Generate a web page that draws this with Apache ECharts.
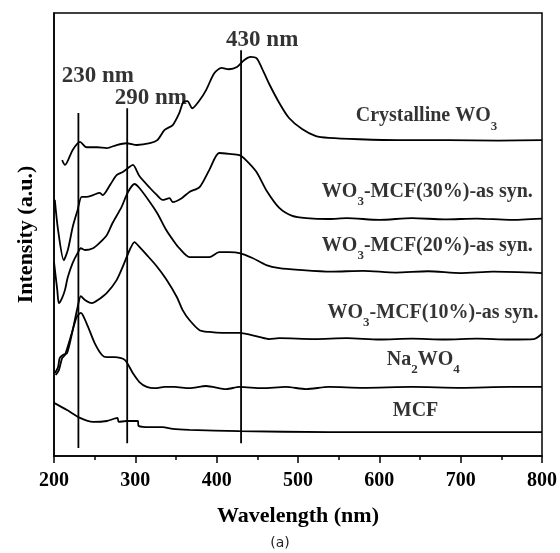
<!DOCTYPE html>
<html>
<head>
<meta charset="utf-8">
<script src="https://cdn.jsdelivr.net/npm/echarts@6/dist/echarts.min.js"></script>
<style>
  html, body { margin: 0; padding: 0; background: #fff; }
  #chart { width: 560px; height: 553px; }
</style>
</head>
<body>
<div id="chart"></div>
<script>
// UV-Vis spectra, wavelength (nm) vs. intensity (a.u.), curves stacked with offsets
const crystallineWO3 = [
  [210, 66.8], [213.5, 65.7], [223, 69.1], [232, 70.9], [240, 69.7], [253, 69.7], [265, 69.5],
  [277, 70.2], [289, 70.6], [302, 70.2], [318, 70.6], [327, 71.3], [336, 73.6], [346, 74.7],
  [354, 77.4], [359, 79.9], [364, 80.1], [370, 78.5], [379, 80.3], [387, 82.6], [397, 86.4],
  [406, 87.6], [415, 87.3], [425, 87.8], [434, 89.4], [442, 90.1], [449, 89.8], [455, 87.8],
  [464, 84.2], [477, 79.7], [489, 76.3], [505, 73.8], [522, 72.2], [538, 71.8], [575, 71.5],
  [624, 71.3], [685, 71.3], [746, 71.2], [800, 71.3]
];
const wo3Mcf30 = [
  [201, 57.8], [205, 51.0], [212, 44.2], [217, 46.5], [223, 51.7], [229, 55.5], [234, 58.5],
  [240, 58.5], [248, 58.9], [256, 59.4], [260, 58.9], [269, 61.2], [277, 63.4], [284.5, 64.1],
  [291, 65.0], [297, 65.7], [305, 63.2], [318, 60.5], [326, 59.0], [333.5, 57.8], [342, 58.2],
  [346, 57.3], [357, 58.2], [366.5, 59.6], [379, 60.7], [391, 64.6], [403, 68.4], [415.5, 68.2],
  [428, 67.9], [436, 66.8], [449, 64.1], [461, 60.0], [477, 56.0], [493, 54.2], [510, 53.7],
  [538, 53.5], [560, 53.7], [600, 53.3], [640, 53.7], [680, 53.4], [720, 53.6], [760, 53.3],
  [800, 53.6]
];
const wo3Mcf20 = [
  [200, 43.8], [204, 37.5], [206, 34.5], [210, 35.7], [213.5, 37.5], [217, 40.4], [223, 43.6],
  [229, 45.8], [233, 46.9], [238, 46.5], [248, 46.9], [256, 48.1], [265, 49.9], [272, 52.6],
  [283, 56.2], [291, 59.6], [299, 61.4], [305, 60.5], [318, 57.3], [327, 54.8], [338, 51.0],
  [348, 48.3], [354, 46.9], [366.5, 44.9], [379, 44.9], [391, 44.9], [403, 46.0], [415.5, 46.0],
  [428, 45.8], [444, 44.7], [461, 43.1], [477, 42.4], [501, 42.0], [540, 41.6], [580, 41.8],
  [620, 41.4], [660, 41.7], [700, 41.3], [740, 41.6], [800, 41.3]
];
const wo3Mcf10 = [
  [201, 18.7], [205, 20.1], [207, 22.1], [211, 22.8], [216, 23.2], [223, 28.4], [229, 33.6],
  [233, 36.1], [238, 35.2], [246.5, 34.5], [254, 35.2], [265, 36.8], [277, 39.7], [284.5, 42.7],
  [293, 46.5], [299, 48.3], [305, 47.2], [314, 45.4], [326, 42.9], [338, 39.9], [351, 35.9],
  [358, 33.0], [366.5, 30.7], [379, 28.4], [391, 28.0], [407, 27.8], [428, 27.8], [452, 26.9],
  [464.5, 26.4], [477, 26.6], [520, 26.4], [560, 26.6], [600, 26.3], [640, 26.5], [680, 26.3],
  [720, 26.5], [760, 26.3], [790, 26.4], [800, 27.6]
];
const na2wo4 = [
  [202, 18.3], [206, 19.4], [210, 22.1], [213.5, 22.8], [222, 27.8], [228, 31.4], [233, 32.3],
  [235.5, 31.8], [242, 29.1], [250, 25.5], [259, 22.8], [265, 22.3], [275, 22.3], [287, 21.7],
  [297, 18.7], [305, 16.7], [314, 15.6], [324, 15.3], [336, 15.6], [348, 15.6], [366.5, 15.3],
  [387, 15.8], [412, 15.1], [428, 15.6], [456, 15.3], [485, 15.6], [510, 15.1], [538, 15.6],
  [580, 15.4], [640, 15.6], [700, 15.4], [760, 15.6], [800, 15.6]
];
const mcf = [
  [200, 12.0], [216, 10.4], [232, 8.6], [248, 7.7], [265, 7.9], [278, 8.6], [279.5, 7.7],
  [289, 7.9], [303, 7.9], [304, 6.8], [318, 6.5], [333.5, 6.5], [346, 6.1], [366.5, 5.9],
  [428, 5.6], [538, 5.4], [800, 5.4]
];

// Marked band positions (nm) and the intensity span of each marker line
const peakWavelengths = [230, 290, 430];
const peakLineSpans = [[1.8, 77.4], [2.9, 78.5], [2.9, 91.6]];

// Axis ticks
const xTicks = [200, 300, 400, 500, 600, 700, 800];

const curves = [crystallineWO3, wo3Mcf30, wo3Mcf20, wo3Mcf10, na2wo4, mcf];
const curveLabels = [
  '{b|Crystalline WO}{s|3}',
  '{b|WO}{s|3}{b|-MCF(30%)-as syn.}',
  '{b|WO}{s|3}{b|-MCF(20%)-as syn.}',
  '{b|WO}{s|3}{b|-MCF(10%)-as syn.}',
  '{b|Na}{s|2}{b|WO}{s|4}',
  '{b|MCF}'
];

// Text placement (data coordinates of each label centre)
const curveLabelAnchors = [[658, 76.7], [659, 59.6], [659, 47.4], [666, 32.3], [654, 21.7], [644.5, 10.2]];
const peakLabelAnchors = [[254, 85.8], [319, 80.8], [456, 93.9]];

const SERIF = '"Liberation Serif", "Times New Roman", serif';
const ink = '#000';

const series = [];
curves.forEach((pts) => {
  series.push({
    type: 'line', data: pts, smooth: 0.25, symbol: 'none', silent: true,
    lineStyle: { color: ink, width: 1.8 }
  });
});
peakWavelengths.forEach((nm, i) => {
  series.push({
    type: 'line', symbol: 'none', silent: true,
    data: [[nm, peakLineSpans[i][0]], [nm, peakLineSpans[i][1]]],
    lineStyle: { color: ink, width: 1.8 }
  });
});

const richStyle = {
  b: { fontFamily: SERIF, fontWeight: 'bold', fontSize: 20, color: ink },
  s: { fontFamily: SERIF, fontWeight: 'bold', fontSize: 13, color: ink, padding: [20, 0, 0, 0] }
};

series.push({
  type: 'scatter', symbolSize: 0, silent: true,
  data: curveLabelAnchors.map((p, i) => ({ value: p, label: { formatter: curveLabels[i] } })),
  label: { show: true, position: 'inside', rich: richStyle }
});
series.push({
  type: 'scatter', symbolSize: 0, silent: true,
  data: peakLabelAnchors.map((p, i) => ({ value: p, label: { formatter: peakWavelengths[i] + ' nm' } })),
  label: {
    show: true, position: 'inside',
    fontFamily: SERIF, fontWeight: 'bold', fontSize: 23, color: ink
  }
});

const chart = echarts.init(document.getElementById('chart'), null, { renderer: 'canvas' });
chart.setOption({
  animation: false,
  backgroundColor: '#fff',
  grid: {
    left: 54, right: 16, top: 13, bottom: 97,
    show: true, borderColor: ink, borderWidth: 1.5, backgroundColor: 'transparent'
  },
  xAxis: {
    type: 'value', min: xTicks[0], max: xTicks[xTicks.length - 1], interval: 100,
    name: 'Wavelength (nm)', nameLocation: 'middle', nameGap: 49,
    nameTextStyle: { fontFamily: SERIF, fontWeight: 'bold', fontSize: 22, color: ink },
    axisLine: { show: true, lineStyle: { color: ink, width: 1.5 } },
    axisTick: { show: true, inside: false, length: 7, lineStyle: { color: ink, width: 1.5 } },
    minorTick: { show: true, splitNumber: 2, length: 4, lineStyle: { color: ink, width: 1.5 } },
    splitLine: { show: false },
    axisLabel: {
      margin: 15, fontFamily: SERIF, fontWeight: 'bold', fontSize: 20, color: ink,
      formatter: (v) => String(v)
    }
  },
  yAxis: {
    type: 'value', min: 0, max: 100,
    name: 'Intensity (a.u.)', nameLocation: 'middle', nameGap: 17,
    nameTextStyle: { fontFamily: SERIF, fontWeight: 'bold', fontSize: 22, color: ink },
    axisLine: { show: true, lineStyle: { color: ink, width: 1.5 } },
    axisTick: { show: false },
    axisLabel: { show: false },
    splitLine: { show: false }
  },
  graphic: [{
    type: 'text', left: 'center', top: 536,
    style: { text: '(a)', fontFamily: '"DejaVu Sans", sans-serif', fontSize: 14, fill: '#222' }
  }],
  series: series
});
</script>
</body>
</html>
